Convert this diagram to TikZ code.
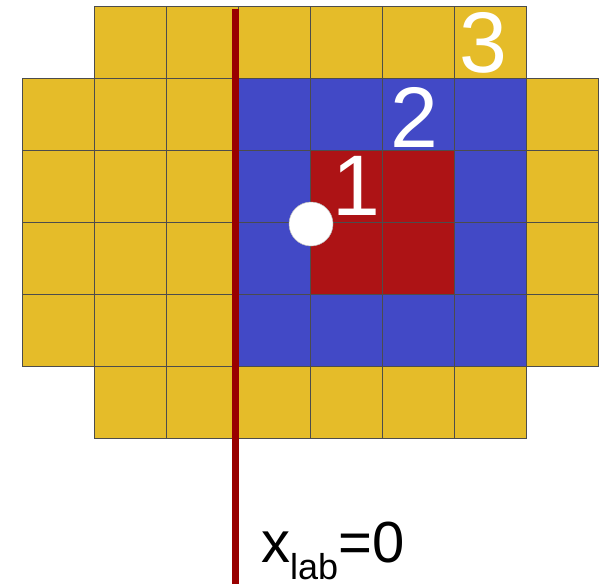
\documentclass[tikz,border=0pt]{standalone}
\usepackage{fontspec}
\setmainfont{Liberation Sans}
\definecolor{cy}{RGB}{229,188,41}
\definecolor{cb}{RGB}{66,73,198}
\definecolor{cr}{RGB}{173,19,21}
\definecolor{cl}{RGB}{153,0,0}
\begin{document}
\begin{tikzpicture}[x=1pt,y=-1pt,
  cell/.style={draw=black!70,line width=0.8pt},
  digit/.style={text=white,anchor=base,inner sep=0pt,font=\fontsize{86}{86}\selectfont}]
\useasboundingbox (0,0) rectangle (607,586);
\foreach \r/\pat in {0/{-,Y,Y,Y,Y,Y,Y,-},1/{Y,Y,Y,B,B,B,B,Y},2/{Y,Y,Y,B,R,R,B,Y},3/{Y,Y,Y,B,R,R,B,Y},4/{Y,Y,Y,B,B,B,B,Y},5/{-,Y,Y,Y,Y,Y,Y,-}}{
  \foreach \c [count=\i from 0] in \pat {
    \if\c Y\fill[cy] (22+72*\i,6.5+72*\r) rectangle ++(72,72);
      \draw[cell] (22+72*\i,6.5+72*\r) rectangle ++(72,72);\fi
    \if\c B\fill[cb] (22+72*\i,6.5+72*\r) rectangle ++(72,72);
      \draw[cell] (22+72*\i,6.5+72*\r) rectangle ++(72,72);\fi
    \if\c R\fill[cr] (22+72*\i,6.5+72*\r) rectangle ++(72,72);
      \draw[cell] (22+72*\i,6.5+72*\r) rectangle ++(72,72);\fi
  }
}
\coordinate (ltop) at (235.5,9.5);
\coordinate (lbot) at (235.5,584);
\draw[cl,line width=7pt] (ltop) -- (lbot);
\node[circle,fill=white,draw=gray!50,line width=0.5pt,minimum size=44pt,inner sep=0pt] (dot) at (311,224) {};
\node[digit] (n1) at (356,215) {1};
\node[digit] (n2) at (414,147) {2};
\node[digit] (n3) at (483,72) {3};
\node[anchor=base west,inner sep=0pt,font=\fontsize{58}{58}\selectfont] (xlab) at (261,562)
  {x\raisebox{-17.5pt}{\fontsize{36}{36}\selectfont lab}=0};
\end{tikzpicture}
\end{document}
